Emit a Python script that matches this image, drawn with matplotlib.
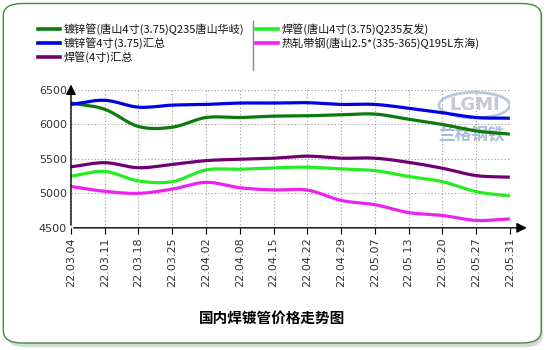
import matplotlib
matplotlib.use("Agg")
import matplotlib.pyplot as plt
import numpy as np
from matplotlib.patches import FancyBboxPatch, Ellipse

plt.rcParams['font.family'] = ['Noto Sans CJK SC', 'DejaVu Sans']

dates = ["22.03.04", "22.03.11", "22.03.18", "22.03.25", "22.04.02", "22.04.08", "22.04.15",
         "22.04.22", "22.04.29", "22.05.07", "22.05.13", "22.05.20", "22.05.27", "22.05.31"]

galv_huaqi = [6310, 6220, 5970, 5960, 6100, 6100, 6120, 6125, 6140, 6150, 6075, 6000, 5905, 5860]
galv_avg = [6290, 6350, 6250, 6280, 6290, 6310, 6310, 6315, 6290, 6290, 6235, 6170, 6100, 6090]
weld_avg = [5385, 5445, 5372, 5420, 5475, 5495, 5510, 5540, 5510, 5510, 5450, 5365, 5258, 5235]
weld_youfa = [5250, 5318, 5180, 5170, 5340, 5350, 5370, 5380, 5355, 5330, 5245, 5170, 5025, 4962]
strip_donghai = [5100, 5030, 5000, 5062, 5160, 5082, 5050, 5048, 4898, 4836, 4722, 4680, 4608, 4630]

names = ["镀锌管(唐山4寸(3.75)Q235唐山华岐)", "镀锌管4寸(3.75)汇总", "焊管(4寸)汇总",
         "焊管(唐山4寸(3.75)Q235友发)", "热轧带钢(唐山2.5*(335-365)Q195L东海)"]
colors = ["#0b7a0b", "#0000e6", "#700070", "#22ee22", "#ee22ee"]
series = [galv_huaqi, galv_avg, weld_avg, weld_youfa, strip_donghai]


def smooth(y, n=20):
    # catmull-rom spline through the weekly points
    y = np.asarray(y, dtype=float)
    x = np.arange(len(y), dtype=float)
    m = np.gradient(y)
    xs, ys = [], []
    for i in range(len(y) - 1):
        t = np.linspace(0, 1, n, endpoint=False)
        h00 = 2 * t**3 - 3 * t**2 + 1
        h10 = t**3 - 2 * t**2 + t
        h01 = -2 * t**3 + 3 * t**2
        h11 = t**3 - t**2
        xs.append(x[i] + t)
        ys.append(h00 * y[i] + h10 * m[i] + h01 * y[i + 1] + h11 * m[i + 1])
    xs.append([x[-1]])
    ys.append([y[-1]])
    return np.concatenate(xs), np.concatenate(ys)


fig = plt.figure(figsize=(5.5, 3.5), dpi=100)

# rounded frame with soft shadow
shadow = FancyBboxPatch((0.012, 0.008), 0.975, 0.975, boxstyle="round,pad=0,rounding_size=0.035",
                        transform=fig.transFigure, facecolor="#d8d8d8", edgecolor="none", zorder=-3)
fig.patches.append(shadow)
frame = FancyBboxPatch((0.006, 0.02), 0.978, 0.97, boxstyle="round,pad=0,rounding_size=0.035",
                       transform=fig.transFigure, facecolor="white", edgecolor="#3f8f3f",
                       linewidth=1.0, zorder=-2)
fig.patches.append(frame)

ax = fig.add_axes([0.129, 0.349, 0.798, 0.394])
ax.set_facecolor("none")

# watermark
ax.add_patch(Ellipse((11.95, 6280), 2.1, 370, facecolor="none", edgecolor="#b8c8e0", lw=2, zorder=1))
ax.text(11.95, 6285, "LGMI", ha="center", va="center", fontsize=13, fontweight="bold",
        color="#c8c8d0", family="DejaVu Sans", zorder=1)
ax.text(11.85, 5835, "兰格钢铁", ha="center", va="center", fontsize=12, fontweight="bold",
        color="#a9bdd8", zorder=1)

for vals, c in zip(series, colors):
    xs, ys = smooth(vals)
    ax.plot(xs, ys, color=c, lw=2.3, solid_capstyle="butt", zorder=3)

ax.set_xlim(0, 13)
ax.set_ylim(4500, 6500)
ax.set_xticks(range(len(dates)))
ax.set_xticklabels(dates, rotation=90, fontsize=8, color="#333333", family="DejaVu Sans")
ax.set_yticks([4500, 5000, 5500, 6000, 6500])
ax.set_yticklabels(["4500", "5000", "5500", "6000", "6500"], fontsize=8, color="#333333",
                   family="DejaVu Sans")
ax.tick_params(axis="x", length=4, width=0.8, pad=3)
ax.tick_params(axis="y", length=0, pad=3)
ax.grid(True, linestyle=(0, (1, 2)), color="#999999", lw=0.8)
for s in ["top", "right", "left", "bottom"]:
    ax.spines[s].set_visible(False)

# axes with arrow heads
ax.annotate("", xy=(1.045, 0), xytext=(0, 0), xycoords="axes fraction",
            arrowprops=dict(arrowstyle="-|>,head_length=0.6,head_width=0.3", color="black", lw=1.0))
ax.annotate("", xy=(0, 1.06), xytext=(0, 0), xycoords="axes fraction",
            arrowprops=dict(arrowstyle="-|>,head_length=0.6,head_width=0.3", color="black", lw=1.0))

# legend in two columns
leg_pos = [(0.069, 0.918), (0.069, 0.877), (0.069, 0.837), (0.466, 0.918), (0.466, 0.877)]
for (lx, ly), name, c in zip(leg_pos, names, colors):
    fig.lines.append(plt.Line2D([lx, lx + 0.04], [ly, ly], color=c, lw=2.6, transform=fig.transFigure))
    fig.text(lx + 0.046, ly, name, fontsize=8, va="center", ha="left", color="#111111")
fig.lines.append(plt.Line2D([0.46, 0.46], [0.8, 0.94], color="#888888", lw=1.0, transform=fig.transFigure))

fig.text(0.495, 0.091, "国内焊镀管价格走势图", fontsize=10.5, fontweight="bold", ha="center", va="center")

fig.savefig("out.png", dpi=100)
